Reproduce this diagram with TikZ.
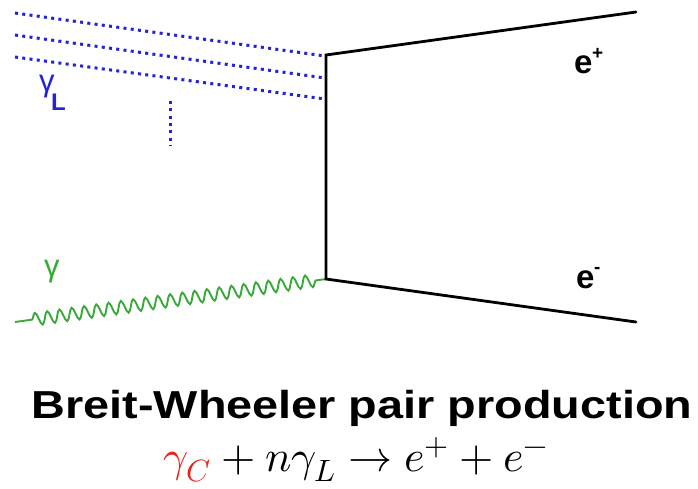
\documentclass[tikz,border=0pt]{standalone}
\usepackage{fontspec}
\usepackage{unicode-math}
\setmainfont{Liberation Sans}
\setmathfont{Latin Modern Math}
\usetikzlibrary{decorations.pathmorphing}
\definecolor{laserblue}{RGB}{35,35,215}
\definecolor{photgreen}{RGB}{55,170,55}
\definecolor{gcred}{RGB}{225,40,30}
\tikzset{
  fermion/.style={line width=2.8pt, black, line cap=round},
  laser/.style={laserblue, line width=3pt, dash pattern=on 3pt off 4.3pt},
  photon/.style={photgreen, line width=1.9pt, decorate, decoration={snake, segment length=12.4pt, amplitude=6.3pt, pre length=17pt, post length=10pt}},
  lbl/.style={inner sep=0pt, font=\bfseries\fontsize{33}{34}\selectfont}
}
\begin{document}
\begin{tikzpicture}[x=1pt,y=-1pt]
\useasboundingbox (0,0) rectangle (698,488);
% vertices
\coordinate (vtop) at (326,55);
\coordinate (vbot) at (326,279);
\coordinate (eplus) at (636,12);
\coordinate (eminus) at (636,322);
\coordinate (l1s) at (15,13);
\coordinate (l2s) at (15,35);
\coordinate (l3s) at (15,57);
\coordinate (l1e) at (325,56);
\coordinate (l2e) at (325,78);
\coordinate (l3e) at (325,99);
\coordinate (dtop) at (170,101);
\coordinate (dbot) at (170,146);
\coordinate (gs) at (15,322);
% laser photons
\draw[laser] (l1s) -- (l1e);
\draw[laser] (l2s) -- (l2e);
\draw[laser] (l3s) -- (l3e);
\draw[laser] (dtop) -- (dbot);
% gamma photon
\draw[photon] (gs) -- (vbot);
% fermion lines
\draw[fermion, line join=miter] (eplus) -- (vtop) -- (vbot) -- (eminus);
% labels
\node[inner sep=0pt, laserblue, anchor=base west, font=\fontsize{31}{32}\selectfont] (gl) at (39,91) {γ};
\node[inner sep=0pt, laserblue, anchor=base west, font=\bfseries\fontsize{24}{24}\selectfont] (glsub) at (51,110) {L};
\node[inner sep=0pt, photgreen, anchor=base west, font=\fontsize{31}{32}\selectfont] (gg) at (44,276) {γ};
\node[lbl, anchor=base west] (ep) at (574,73) {e};
\node[inner sep=0pt, anchor=base west, font=\bfseries\fontsize{19}{19}\selectfont] (epsup) at (592,59) {+};
\node[lbl, anchor=base west] (em) at (576,288) {e};
\node[inner sep=0pt, anchor=base west, font=\bfseries\fontsize{19}{19}\selectfont] (emsup) at (594,273) {-};
\node[inner sep=0pt, anchor=base, font=\bfseries\fontsize{39}{40}\selectfont] (title) at (362,418) {\scalebox{1.2}[1]{Breit-Wheeler pair production}};
\node[inner sep=0pt, anchor=base, font=\fontsize{44}{46}\selectfont] (eq) at (356,471) {$\textcolor{gcred}{\gamma_C} + n\gamma_L \rightarrow e^+ + e^-$};
\end{tikzpicture}
\end{document}
